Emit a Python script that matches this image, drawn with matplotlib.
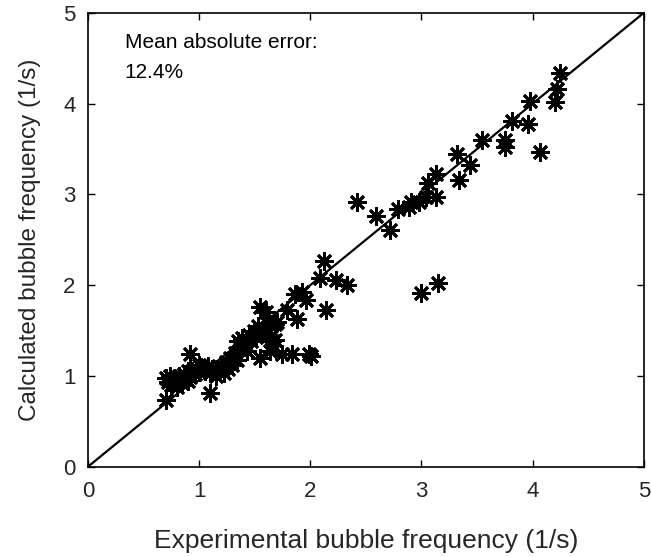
import matplotlib
import matplotlib.pyplot as plt
import numpy as np

matplotlib.use("Agg")

plt.rcParams["font.family"] = ["Liberation Sans", "DejaVu Sans"]

# experimental vs calculated bubble frequency (1/s)
exp_freq = [
    0.70, 0.72, 0.74, 0.76, 0.78, 0.80, 0.82, 0.84, 0.86, 0.88,
    0.90, 0.92, 0.94, 0.96, 0.98, 1.00, 1.02, 1.05, 1.08, 1.10,
    1.12, 1.15, 1.17, 1.20, 1.22, 1.24, 1.26, 1.28, 1.30, 1.32,
    1.34, 1.35, 1.37, 1.39, 1.41, 1.43, 1.45, 1.47, 1.49, 1.51,
    1.53, 1.55, 1.58, 1.60, 1.62, 1.65, 1.68, 1.70, 1.00, 0.92,
    1.10, 0.70, 1.55, 1.66, 1.64, 1.75, 1.84, 1.99, 2.01, 1.55,
    1.60, 1.68, 1.79, 1.88, 1.86, 1.96, 1.93, 2.14, 2.09, 2.12,
    2.23, 2.33, 3.00, 3.15, 2.42, 2.59, 2.72, 2.79, 2.89, 2.91,
    2.98, 3.04, 3.13, 3.06, 3.13, 3.34, 3.44, 3.32, 3.54, 4.07,
    3.75, 3.75, 3.96, 3.81, 3.98, 4.20, 4.22, 4.25,
    0.75, 0.80, 0.85, 0.90,
]
calc_freq = [
    0.98, 0.93, 1.00, 0.95, 0.97, 0.92, 1.00, 0.95, 1.02, 0.97,
    1.05, 0.99, 1.06, 1.02, 1.08, 1.04, 1.10, 1.06, 1.11, 1.03,
    1.08, 1.00, 1.05, 1.10, 1.03, 1.15, 1.08, 1.20, 1.12, 1.25,
    1.18, 1.38, 1.30, 1.42, 1.35, 1.28, 1.45, 1.38, 1.50, 1.43,
    1.55, 1.48, 1.52, 1.45, 1.58, 1.55, 1.40, 1.60, 1.12, 1.24,
    0.81, 0.73, 1.20, 1.39, 1.28, 1.24, 1.24, 1.24, 1.22, 1.76,
    1.71, 1.57, 1.73, 1.63, 1.90, 1.84, 1.93, 1.73, 2.08, 2.27,
    2.06, 2.00, 1.91, 2.02, 2.92, 2.76, 2.61, 2.84, 2.86, 2.92,
    2.92, 2.97, 2.97, 3.12, 3.23, 3.16, 3.32, 3.45, 3.60, 3.47,
    3.52, 3.60, 3.77, 3.81, 4.03, 4.02, 4.16, 4.34,
    0.90, 0.88, 0.92, 0.94,
]
ref_line = [0, 5]
ticks = [0, 1, 2, 3, 4, 5]

fig = plt.figure(figsize=(6.51, 5.57), dpi=100)
ax = fig.add_axes([0.135, 0.162, 0.854, 0.815])

ax.plot(ref_line, ref_line, color="black", lw=1.6, zorder=1)
ax.plot(exp_freq, calc_freq, ls="none", marker=(8, 2, 0), ms=13,
        mew=2.0, color="black", zorder=2)

ax.set_xlim(0, 5)
ax.set_ylim(0, 5)
ax.set_xticks(ticks)
ax.set_yticks(ticks)
ax.tick_params(direction="in", top=True, right=True, length=5,
               width=1, labelsize=16, labelcolor="#262626")
ax.tick_params(axis="x", pad=10)
ax.tick_params(axis="y", pad=9)
for s in ax.spines.values():
    s.set_linewidth(1.2)

ax.set_xlabel("Experimental bubble frequency (1/s)", fontsize=19,
              color="#262626", labelpad=20)
ax.set_ylabel("Calculated bubble frequency (1/s)", fontsize=17.5,
              color="#262626", labelpad=16)

ax.text(0.33, 4.78, "Mean absolute error:\n12.4%", fontsize=15,
        va="top", ha="left", linespacing=1.75)

fig.savefig("out.png", dpi=100)
